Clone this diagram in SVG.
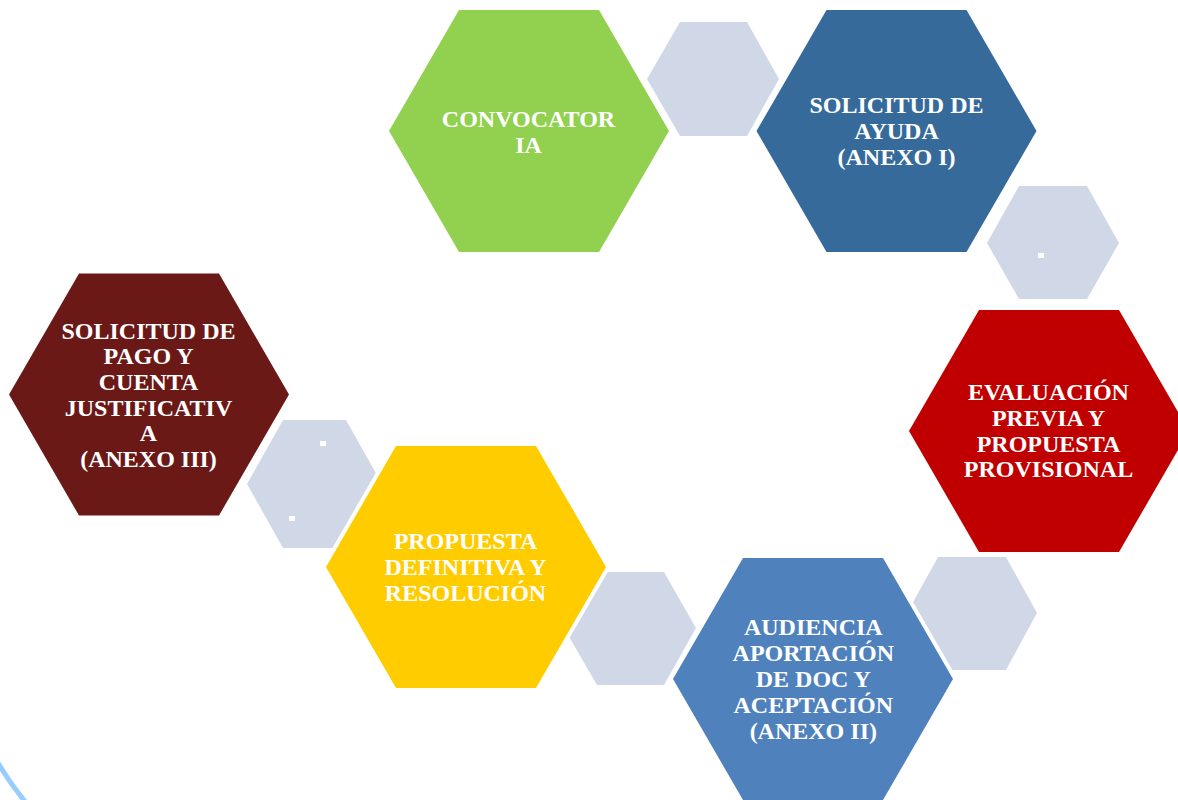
<svg xmlns="http://www.w3.org/2000/svg" width="1178" height="800" viewBox="0 0 1178 800">
  <style>
    .big { stroke: #FFFFFF; stroke-width: 8; paint-order: stroke; stroke-linejoin: miter; }
    .small { fill: #D0D8E8; }
    .dot { fill: #FFFFFF; }
    .lbl { font-family: "Liberation Serif", "Times New Roman", serif; font-weight: bold; font-size: 24px; fill: #FFFFFF; text-anchor: middle; }
  </style>
  <defs>
    <polygon id="hexBig" points="-140,0 -70,-121 70,-121 140,0 70,121 -70,121"/>
  </defs>
  <rect width="1178" height="800" fill="#FFFFFF"/>

  <g id="connectors">
    <polygon class="small" points="647,79 680,22 747,22 779,79 747,136 680,136"/>
    <polygon class="small" points="987,243 1019,186 1087,186 1119,243 1087,299 1019,299"/>
    <rect class="dot" x="1038" y="253" width="6" height="5"/>
    <polygon class="small" points="907,613 938,557 1006,557 1037,613 1006,670 938,670"/>
    <polygon class="small" points="564,628 597,572 664,572 696,628 664,685 597,685"/>
    <polygon class="small" points="247,484 283,420 346,420 382,484 346,548 283,548"/>
    <rect class="dot" x="320" y="441" width="6" height="5"/>
    <rect class="dot" x="289" y="516" width="6" height="5"/>
  </g>

  <g id="node-convocatoria">
    <use href="#hexBig" class="big" x="529" y="131" fill="#92D050"/>
    <text class="lbl" x="528.5" y="127">CONVOCATOR<tspan x="528.5" dy="25.8">IA</tspan></text>
  </g>

  <g id="node-solicitud-ayuda">
    <use href="#hexBig" class="big" x="896.5" y="131" fill="#356A9A"/>
    <text class="lbl" x="896.5" y="113">SOLICITUD DE<tspan x="896.5" dy="25.8">AYUDA</tspan><tspan x="896.5" dy="25.8">(ANEXO I)</tspan></text>
  </g>

  <g id="node-evaluacion">
    <use href="#hexBig" class="big" x="1049" y="431" fill="#C00000"/>
    <text class="lbl" x="1048.5" y="400">EVALUACIÓN<tspan x="1048.5" dy="25.8">PREVIA Y</tspan><tspan x="1048.5" dy="25.8">PROPUESTA</tspan><tspan x="1048.5" dy="25.8">PROVISIONAL</tspan></text>
  </g>

  <g id="node-audiencia">
    <use href="#hexBig" class="big" x="813" y="679" fill="#4F81BD"/>
    <text class="lbl" x="813.3" y="635">AUDIENCIA<tspan x="813.3" dy="26">APORTACIÓN</tspan><tspan x="813.3" dy="26">DE DOC Y</tspan><tspan x="813.3" dy="26">ACEPTACIÓN</tspan><tspan x="813.3" dy="26">(ANEXO II)</tspan></text>
  </g>

  <g id="node-propuesta-definitiva">
    <use href="#hexBig" class="big" x="466" y="567" fill="#FFCC00"/>
    <text class="lbl" x="465.5" y="549">PROPUESTA<tspan x="465.5" dy="26">DEFINITIVA Y</tspan><tspan x="465.5" dy="26">RESOLUCIÓN</tspan></text>
  </g>

  <g id="node-solicitud-pago">
    <use href="#hexBig" class="big" x="149" y="394.5" fill="#6A1917"/>
    <text class="lbl" x="148.5" y="338.5">SOLICITUD DE<tspan x="148.5" dy="25.7">PAGO Y</tspan><tspan x="148.5" dy="25.7">CUENTA</tspan><tspan x="148.5" dy="25.7">JUSTIFICATIV</tspan><tspan x="148.5" dy="25.7">A</tspan><tspan x="148.5" dy="25.7">(ANEXO III)</tspan></text>
  </g>

  <path d="M -3,761 Q 9,782 27,804" fill="none" stroke="#99CCFF" stroke-width="5"/>
</svg>
